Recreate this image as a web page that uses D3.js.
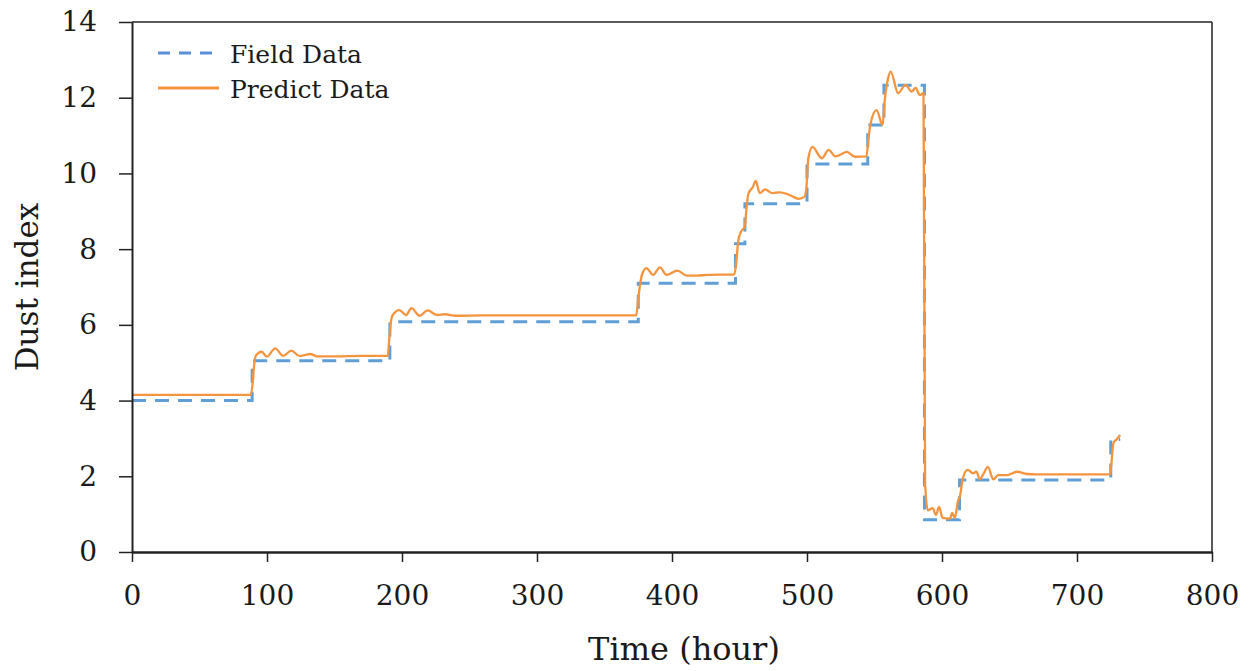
<!DOCTYPE html>
<html>
<head>
<meta charset="utf-8">
<script src="https://cdn.jsdelivr.net/npm/d3@7"></script>
<style>
  html, body { margin: 0; padding: 0; background: #fff; }
  svg { display: block; }
  text { font-family: "DejaVu Serif", serif; fill: #1a1a1a; }
</style>
</head>
<body>
<svg id="chart" width="1250" height="671"></svg>
<script>
// ---- Data ----
const xTicks = [0, 100, 200, 300, 400, 500, 600, 700, 800];
const yTicks = [0, 2, 4, 6, 8, 10, 12, 14];
const seriesNames = ["Field Data", "Predict Data"];

const fieldTime  = [0, 89, 89, 191, 191, 375, 375, 447, 447, 454, 454, 500, 500, 545, 545, 557, 557, 587, 587, 613, 613, 725, 725, 732];
const fieldValue = [4.0, 4.0, 5.05, 5.05, 6.08, 6.08, 7.1, 7.1, 8.14, 8.14, 9.2, 9.2, 10.25, 10.25, 11.28, 11.28, 12.33, 12.33, 0.85, 0.85, 1.9, 1.9, 2.97, 2.97];

const predTime = [0, 88, 89.5, 90.5, 92, 96, 100, 106, 112, 118, 124, 128, 132, 137, 150, 170, 189.5,
  190.5, 191.5, 193, 198, 203, 207, 213, 219, 226, 232, 240, 260, 300, 373.5,
  375, 376.5, 378, 381, 386, 391, 396, 404, 411, 418, 426, 446,
  447.5, 449, 451, 454, 455, 456.5, 460, 462, 465, 469, 474, 480, 485, 490, 494, 498,
  499.5, 501, 504, 511, 516, 521, 525, 529.5, 535.5, 544,
  545.5, 547, 551.5, 556, 557.5, 560, 562, 567.5, 573, 577.5, 580.5, 583.5, 586.3,
  587.5, 589.5, 593, 595.5, 597.8, 600.5, 606, 607.5, 609.5, 612, 613,
  615.5, 619, 623, 625.5, 628, 630.5, 634, 638, 641.5, 648, 655.5, 663, 670, 724.5,
  727, 729.5, 732];
const predValue = [4.15, 4.15, 4.5, 4.95, 5.2, 5.29, 5.16, 5.38, 5.18, 5.32, 5.18, 5.2, 5.23, 5.17, 5.17, 5.18, 5.18,
  5.6, 6.0, 6.25, 6.39, 6.26, 6.44, 6.24, 6.38, 6.26, 6.28, 6.24, 6.25, 6.25, 6.25,
  6.7, 7.1, 7.35, 7.5, 7.32, 7.52, 7.32, 7.43, 7.3, 7.3, 7.32, 7.33,
  7.6, 8.2, 8.45, 8.6, 9.0, 9.45, 9.65, 9.8, 9.48, 9.58, 9.48, 9.5, 9.46, 9.38, 9.33, 9.38,
  9.6, 10.4, 10.7, 10.4, 10.62, 10.45, 10.5, 10.57, 10.44, 10.45,
  10.9, 11.3, 11.67, 11.28, 11.9, 12.5, 12.69, 12.12, 12.34, 12.16, 12.26, 12.07, 12.12,
  1.8, 1.1, 1.16, 0.98, 1.19, 0.9, 0.88, 1.03, 0.9, 1.37, 1.43,
  1.95, 2.17, 2.08, 2.12, 1.92, 2.05, 2.25, 1.92, 2.03, 2.03, 2.12, 2.06, 2.05, 2.05,
  2.88, 2.98, 3.09];

// ---- Layout ----
const mLeft = 132, mRight = 1212, mTop = 22, mBottom = 552;
const svg = d3.select("#chart");

const x = d3.scaleLinear().domain([0, 800]).range([mLeft, mRight]);
const y = d3.scaleLinear().domain([0, 14]).range([mBottom, mTop]);

const fieldColor = "#5f9fd6";
const predColor = "#f5943f";

// Box (top & right)
svg.append("line").attr("x1", mLeft).attr("x2", mRight).attr("y1", mTop).attr("y2", mTop)
  .attr("stroke", "#222").attr("stroke-width", 1.5);
svg.append("line").attr("x1", mRight).attr("x2", mRight).attr("y1", mTop).attr("y2", mBottom)
  .attr("stroke", "#222").attr("stroke-width", 1.5);

// Lines
const fieldPts = fieldTime.map((t, i) => [t, fieldValue[i]]);
const predPts = predTime.map((t, i) => [t, predValue[i]]);
const line = d3.line().x(d => x(d[0])).y(d => y(d[1]));
const smoothLine = d3.line().x(d => x(d[0])).y(d => y(d[1])).curve(d3.curveMonotoneX);

svg.append("path").datum(fieldPts).attr("d", line)
  .attr("fill", "none").attr("stroke", fieldColor).attr("stroke-width", 3)
  .attr("stroke-dasharray", "14,9");
svg.append("path").datum(predPts).attr("d", smoothLine)
  .attr("fill", "none").attr("stroke", predColor).attr("stroke-width", 2.3)
  .attr("stroke-linejoin", "round");

// Axes
const xAxis = d3.axisBottom(x).tickValues(xTicks).tickFormat(d3.format("d"))
  .tickSize(10).tickPadding(23).tickSizeOuter(0);
const gx = svg.append("g").attr("transform", `translate(0,${mBottom})`).call(xAxis);
gx.select(".domain").attr("stroke", "#222").attr("stroke-width", 2.5);
gx.selectAll(".tick line").attr("stroke", "#222").attr("stroke-width", 1.5);
gx.selectAll(".tick text").attr("font-size", 28).attr("font-family", "DejaVu Serif").attr("fill", "#1a1a1a");

const yAxis = d3.axisLeft(y).tickValues(yTicks).tickFormat(d3.format("d"))
  .tickSize(13).tickPadding(22).tickSizeOuter(0);
const gy = svg.append("g").attr("transform", `translate(${mLeft},0)`).call(yAxis);
gy.select(".domain").attr("stroke", "#222").attr("stroke-width", 2);
gy.selectAll(".tick line").attr("stroke", "#222").attr("stroke-width", 1.5);
gy.selectAll(".tick text").attr("font-size", 28).attr("font-family", "DejaVu Serif").attr("fill", "#1a1a1a");

// Axis titles
svg.append("text").attr("x", 684).attr("y", 660).attr("text-anchor", "middle")
  .attr("font-size", 32).text("Time (hour)");
svg.append("text").attr("transform", `translate(38,${(mTop + mBottom) / 2}) rotate(-90)`)
  .attr("text-anchor", "middle").attr("font-size", 31).text("Dust index");

// Legend
const legend = svg.append("g");
legend.append("line").attr("x1", 158).attr("x2", 219).attr("y1", 53).attr("y2", 53)
  .attr("stroke", "#5b8fd8").attr("stroke-width", 3).attr("stroke-dasharray", "12,9");
legend.append("text").attr("x", 230).attr("y", 63).attr("font-size", 25).text(seriesNames[0]);
legend.append("line").attr("x1", 158).attr("x2", 219).attr("y1", 88).attr("y2", 88)
  .attr("stroke", predColor).attr("stroke-width", 3);
legend.append("text").attr("x", 230).attr("y", 98).attr("font-size", 25).text(seriesNames[1]);
</script>
</body>
</html>
